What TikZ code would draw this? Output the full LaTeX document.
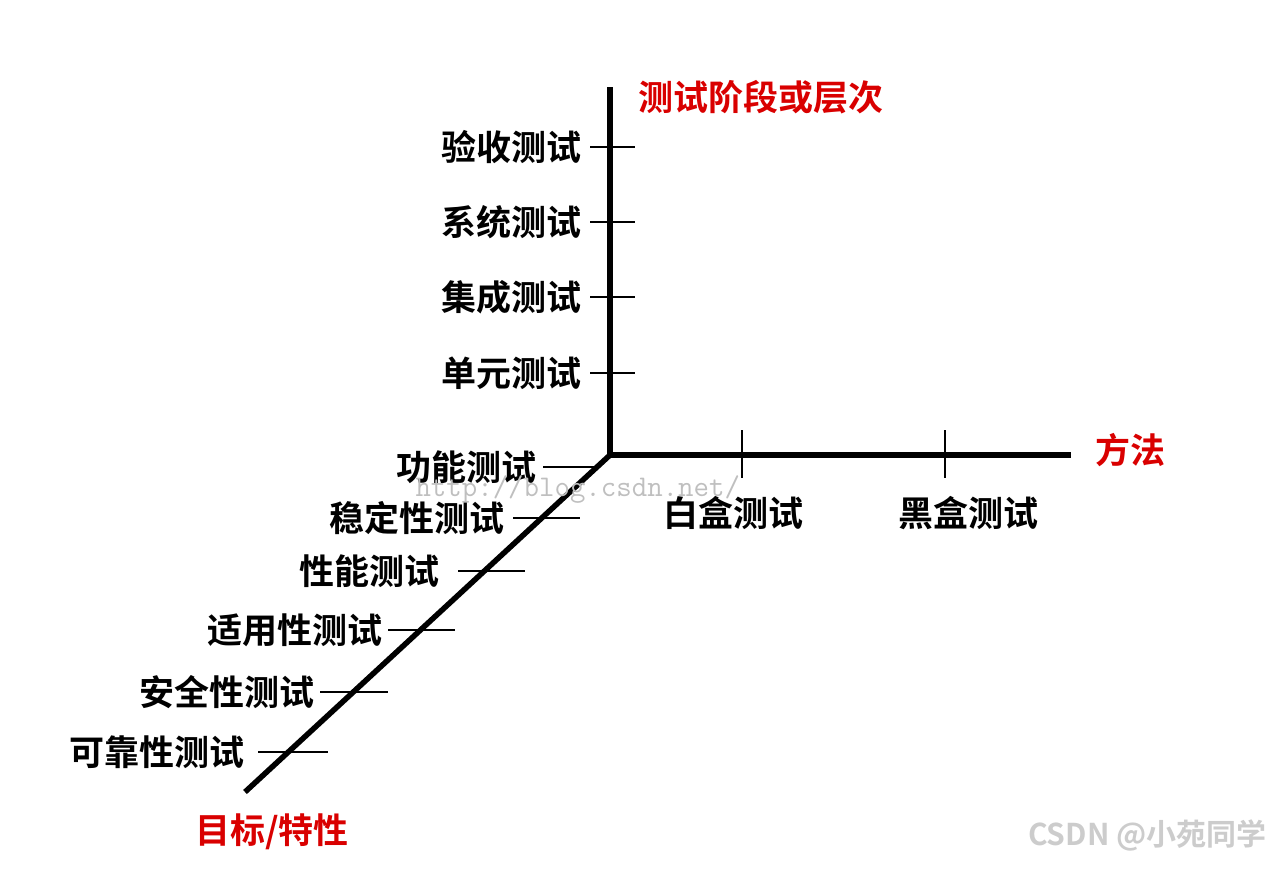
\documentclass[tikz,border=0pt]{standalone}
\usepackage{fontspec}
\newfontfamily\cjk{Noto Sans CJK SC Bold}
\begin{document}
\begin{tikzpicture}[x=1pt,y=-1pt,
  axis/.style={line width=5.5pt},
  tick/.style={line width=1.6pt},
  lab/.style={font=\cjk\fontsize{35}{35}\selectfont, inner sep=0pt},
  ttl/.style={font=\cjk\fontsize{35}{35}\selectfont, text=red!85!black, inner sep=0pt}]
\useasboundingbox (0,0) rectangle (1284,870);
\coordinate (o) at (610,455);
\coordinate (top) at (610,90);
\coordinate (right) at (1068,455);
\coordinate (bl) at (245,792);
\draw[axis,line cap=rect] (top) -- (o) -- (right);
\draw[axis] (o) -- (bl);
\foreach \y/\t in {147/验收测试,222/系统测试,297/集成测试,373/单元测试}{
  \draw[tick] (590,\y) -- (635,\y);
  \node[lab,anchor=east] at (582,\y) {\t};}
\draw[tick] (742,430) -- (742,478);
\draw[tick] (945,430) -- (945,478);
\node[lab] (w) at (733,513) {白盒测试};
\node[lab] (b) at (968,513) {黑盒测试};
\foreach \y/\a/\b/\e/\t in {467/543/600/537/功能测试,518/513/580/505/稳定性测试,571/458/525/440/性能测试,630/388/455/383/适用性测试,692/320/388/315/安全性测试,752/258/328/245/可靠性测试}{
  \draw[tick] (\a,\y) -- (\b,\y);
  \node[lab,anchor=east] at (\e,\y) {\t};}
\node[ttl,anchor=west] (t1) at (638,97) {测试阶段或层次};
\node[ttl] (t2) at (1130,450) {方法};
\node[ttl] (t3) at (272,832) {目标/特性};
\node[text=black!25, font=\ttfamily\fontsize{30}{30}\selectfont, anchor=west] (wm) at (412,490) {http://blog.csdn.net/};
\node[text=black!20, font=\cjk\fontsize{30}{30}\selectfont, anchor=east] (cs) at (1270,835) {CSDN @小苑同学};
\end{tikzpicture}
\end{document}
